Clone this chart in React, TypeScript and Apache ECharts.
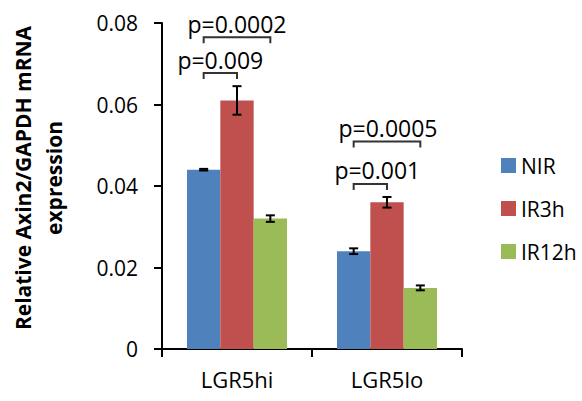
import React, { useEffect, useRef } from 'react';
import * as echarts from 'echarts';

const categories = ['LGR5hi', 'LGR5lo'];
const seriesNames = ['NIR', 'IR3h', 'IR12h'];
const nirValues = [0.044, 0.024];
const ir3hValues = [0.061, 0.036];
const ir12hValues = [0.032, 0.015];
const nirErrors = [0.0002, 0.0007];
const ir3hErrors = [0.0035, 0.0013];
const ir12hErrors = [0.0008, 0.0006];

const pLabels = ['p=0.009', 'p=0.0002', 'p=0.001', 'p=0.0005'];
const pCategory = [0, 0, 1, 1];
const pFromBar = [0, 0, 0, 0];
const pToBar = [1, 2, 1, 2];
const pLevel = [0.0677, 0.0765, 0.0405, 0.0509];

const yAxisTitle = 'Relative Axin2/GAPDH mRNA\nexpression';

const colors = ['#4F81BD', '#C0504D', '#9BBB59'];
const FONT = '"Open Sans", sans-serif';
const BAR_FRAC = 2 / 9; // bar width as fraction of category band
const labelShift = [0, 0, 7, 1];

export default function App() {
  const ref = useRef<HTMLDivElement>(null);
  useEffect(() => {
    document.body.style.margin = '0';
    if (!ref.current) return;
    const chart = echarts.init(ref.current, undefined, { renderer: 'svg' });
    const valueSets = [nirValues, ir3hValues, ir12hValues];
    const errSets = [nirErrors, ir3hErrors, ir12hErrors];

    const barSeries = seriesNames.map((name, k) => ({
      name,
      type: 'bar',
      data: valueSets[k],
      barWidth: (BAR_FRAC * 100).toFixed(2) + '%',
      barGap: '0%',
      itemStyle: { color: colors[k] },
      z: 2,
    }));

    const errSeries = seriesNames.map((name, k) => ({
      name: name + '_err',
      type: 'custom',
      data: valueSets[k].map((v, i) => [i, v, errSets[k][i]]),
      encode: { x: 0, y: 1 },
      z: 10,
      silent: true,
      renderItem: (params: any, api: any) => {
        const cat = api.value(0);
        const v = api.value(1);
        const e = api.value(2);
        const bandW = api.size([1, 0])[0];
        const barW = bandW * BAR_FRAC;
        const top = api.coord([cat, v + e]);
        const bot = api.coord([cat, v - e]);
        const x = top[0] + (k - 1) * barW;
        const cap = 4.5;
        const st = { stroke: '#000', lineWidth: 2 };
        return {
          type: 'group',
          children: [
            { type: 'line', shape: { x1: x, y1: top[1], x2: x, y2: bot[1] }, style: st },
            { type: 'line', shape: { x1: x - cap, y1: top[1], x2: x + cap, y2: top[1] }, style: st },
            { type: 'line', shape: { x1: x - cap, y1: bot[1], x2: x + cap, y2: bot[1] }, style: st },
          ],
        };
      },
    }));

    const bracketSeries = {
      name: 'brackets',
      type: 'custom',
      data: pLabels.map((_, i) => [pCategory[i], pLevel[i], pFromBar[i], pToBar[i]]),
      encode: { x: 0, y: 1 },
      z: 11,
      silent: true,
      clip: false,
      renderItem: (params: any, api: any) => {
        const idx = params.dataIndex;
        const cat = api.value(0);
        const lvl = api.value(1);
        const from = api.value(2);
        const to = api.value(3);
        const bandW = api.size([1, 0])[0];
        const barW = bandW * BAR_FRAC;
        const c = api.coord([cat, lvl]);
        const x1 = c[0] + (from - 1) * barW;
        const x2 = c[0] + (to - 1) * barW;
        const y = c[1];
        const leg = 6;
        return {
          type: 'group',
          children: [
            {
              type: 'polyline',
              shape: { points: [[x1, y + leg], [x1, y], [x2, y], [x2, y + leg]] },
              style: { stroke: '#333', lineWidth: 2, fill: 'none' },
            },
            {
              type: 'text',
              x: (x1 + x2) / 2 + labelShift[idx],
              y: y - 2,
              style: {
                text: pLabels[idx],
                align: 'center',
                verticalAlign: 'bottom',
                font: '23px ' + FONT,
                fill: '#000',
              },
            },
          ],
        };
      },
    };

    chart.setOption({
      animation: false,
      grid: { left: 162, right: 120, top: 23, bottom: 52 },
      legend: {
        data: seriesNames,
        orient: 'vertical',
        left: 496,
        top: 150,
        icon: 'rect',
        itemWidth: 15,
        itemHeight: 15,
        itemGap: 22,
        textStyle: { fontSize: 21, lineHeight: 21, fontFamily: FONT, color: '#000' },
      },
      xAxis: {
        type: 'category',
        data: categories,
        axisLine: { lineStyle: { color: '#000', width: 2 } },
        axisTick: { show: true, length: 8, lineStyle: { color: '#000', width: 2 } },
        axisLabel: { fontSize: 22, fontFamily: FONT, color: '#000', margin: 19 },
      },
      yAxis: {
        type: 'value',
        min: 0,
        max: 0.08,
        interval: 0.02,
        splitLine: { show: false },
        axisLine: { show: true, lineStyle: { color: '#000', width: 2 } },
        axisTick: { show: true, length: 8, lineStyle: { color: '#000', width: 2 } },
        axisLabel: {
          fontSize: 21,
          fontFamily: FONT,
          color: '#000',
          margin: 24,
          formatter: (v: number) => (v === 0 ? '0' : v.toFixed(2)),
        },
      },
      graphic: [
        {
          type: 'text',
          x: 38,
          y: 178,
          rotation: Math.PI / 2,
          style: {
            text: yAxisTitle,
            align: 'center',
            verticalAlign: 'middle',
            font: 'bold 21px ' + FONT,
            lineHeight: 31,
            fill: '#000',
          },
        },
      ],
      series: [...barSeries, ...errSeries, bracketSeries],
    });
    return () => chart.dispose();
  }, []);
  return <div ref={ref} style={{ width: 582, height: 401 }} />;
}
